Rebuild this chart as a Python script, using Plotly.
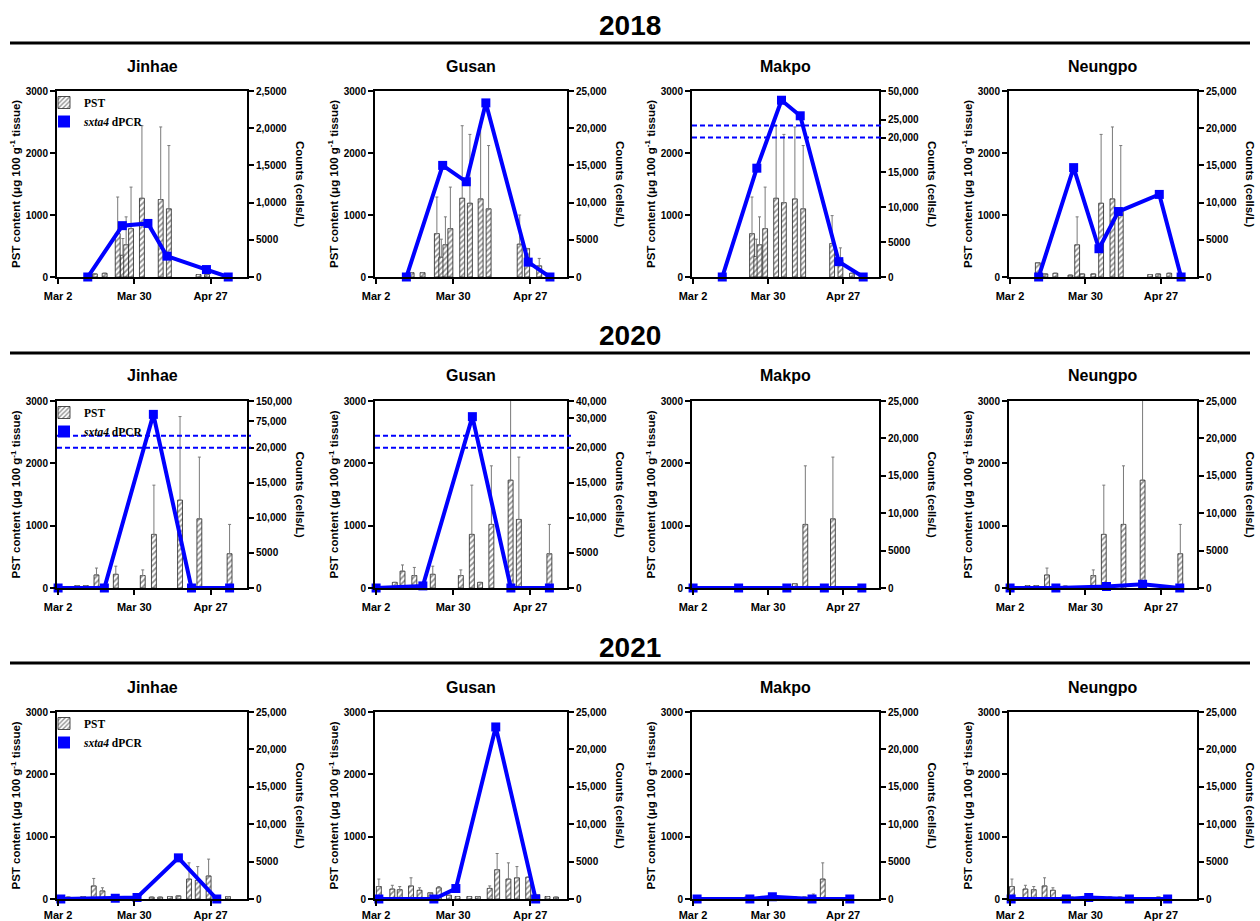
import plotly.graph_objects as go

W, H = 1260, 921

# ------------------------------------------------------------------ data
YEARS = ["2018", "2020", "2021"]
SITES = ["Jinhae", "Gusan", "Makpo", "Neungpo"]

DATE_TICK_DAYS = [0, 28, 56]            # days after Mar 2
DATE_TICK_LABELS = ["Mar 2", "Mar 30", "Apr 27"]
PST_TICKS = [0, 1000, 2000, 3000]

COUNT_TICKS_STD = [0, 5000, 10000, 15000, 20000, 25000]
COUNT_LABELS_STD = ["0", "5000", "10,000", "15,000", "20,000", "25,000"]
COUNT_LABELS_JINHAE_2018 = ["0", "5000", "1,0000", "1,5000", "2,0000", "2,5000"]
COUNT_TICKS_MAKPO_2018 = [0, 5000, 10000, 15000, 20000, 25000, 50000]
COUNT_LABELS_MAKPO_2018 = ["0", "5000", "10,000", "15,000", "20,000", "25,000", "50,000"]
COUNT_TICKS_JINHAE_2020 = [0, 5000, 10000, 15000, 20000, 75000, 150000]
COUNT_LABELS_JINHAE_2020 = ["0", "5000", "10,000", "15,000", "20,000", "75,000", "150,000"]
COUNT_TICKS_GUSAN_2020 = [0, 5000, 10000, 15000, 20000, 30000, 40000]
COUNT_LABELS_GUSAN_2020 = ["0", "5000", "10,000", "15,000", "20,000", "30,000", "40,000"]

# ---- 2018
JINHAE_2018_PST_DAY = [13.5, 17.1, 21.9, 23.8, 25.0, 26.8, 30.8, 37.7, 40.7, 51.6, 54.7]
JINHAE_2018_PST = [50, 60, 700, 350, 520, 780, 1270, 1250, 1100, 40, 40]
JINHAE_2018_PST_SD = [0, 0, 590, 270, 450, 670, 1170, 1170, 1020, 0, 0]
JINHAE_2018_DPCR_DAY = [10.9, 23.6, 33.0, 40.0, 54.5, 62.5]
JINHAE_2018_DPCR = [0, 6900, 7200, 2800, 1000, 0]

GUSAN_2018_PST_DAY = [12.9, 16.9, 22.1, 23.7, 25.2, 27.0, 31.3, 34.1, 38.0, 40.9, 52.2, 54.9, 59.3]
GUSAN_2018_PST = [70, 70, 700, 320, 520, 780, 1270, 1190, 1260, 1100, 530, 460, 180]
GUSAN_2018_PST_SD = [0, 0, 590, 290, 450, 670, 1170, 1110, 1160, 1020, 470, 0, 120]
GUSAN_2018_DPCR_DAY = [11.0, 24.2, 32.8, 39.9, 55.3, 63.2]
GUSAN_2018_DPCR = [0, 15000, 12800, 23400, 2000, 0]

MAKPO_2018_PST_DAY = [22.0, 23.6, 24.8, 26.9, 31.0, 33.9, 38.0, 41.1, 51.9, 55.0, 59.3]
MAKPO_2018_PST = [700, 330, 520, 780, 1270, 1200, 1260, 1100, 540, 280, 60]
MAKPO_2018_PST_SD = [590, 280, 450, 670, 1170, 1100, 1160, 1020, 450, 190, 0]
MAKPO_2018_DPCR_DAY = [10.9, 23.8, 33.0, 40.0, 54.4, 63.5]
MAKPO_2018_DPCR = [0, 15600, 42000, 28500, 2200, 0]

NEUNGPO_2018_PST_DAY = [10.3, 13.1, 16.8, 22.4, 24.9, 26.8, 30.9, 33.8, 38.0, 41.1, 52.0, 55.0, 59.1]
NEUNGPO_2018_PST = [230, 50, 60, 30, 520, 50, 50, 1190, 1260, 1100, 40, 50, 60]
NEUNGPO_2018_PST_SD = [0, 0, 0, 0, 450, 0, 0, 1110, 1160, 1020, 0, 0, 0]
NEUNGPO_2018_DPCR_DAY = [10.6, 23.6, 33.0, 40.2, 55.4, 63.5]
NEUNGPO_2018_DPCR = [0, 14700, 3800, 8800, 11100, 0]

# ---- 2020
JINHAE_2020_PST_DAY = [7.0, 10.2, 14.1, 21.2, 31.1, 35.2, 44.8, 51.9, 63.0]
JINHAE_2020_PST = [40, 40, 210, 220, 200, 860, 1410, 1110, 550]
JINHAE_2020_PST_SD = [0, 0, 110, 130, 90, 790, 1340, 990, 470]
JINHAE_2020_DPCR_DAY = [0, 17, 35, 49, 63]
JINHAE_2020_DPCR = [0, 0, 100000, 0, 0]

GUSAN_2020_PST_DAY = [6.8, 9.6, 13.9, 20.6, 30.8, 34.8, 37.8, 41.9, 48.9, 51.9, 63.0]
GUSAN_2020_PST = [90, 270, 200, 220, 200, 860, 90, 1020, 1730, 1100, 550]
GUSAN_2020_PST_SD = [0, 100, 130, 130, 90, 790, 0, 940, 1370, 1000, 470]
GUSAN_2020_DPCR_DAY = [0, 17, 35, 49, 63]
GUSAN_2020_DPCR = [0, 300, 31000, 0, 0]

MAKPO_2020_PST_DAY = [20.7, 30.6, 34.9, 38.0, 41.9, 52.2, 59.6, 62.7]
MAKPO_2020_PST = [20, 20, 30, 70, 1020, 1110, 20, 20]
MAKPO_2020_PST_SD = [0, 0, 0, 0, 940, 990, 0, 0]
MAKPO_2020_DPCR_DAY = [0, 17, 35, 49, 63]
MAKPO_2020_DPCR = [0, 0, 0, 0, 0]

NEUNGPO_2020_PST_DAY = [2.7, 6.5, 9.7, 13.7, 20.5, 30.9, 34.8, 42.1, 49.2, 63.2]
NEUNGPO_2020_PST = [20, 40, 40, 210, 30, 200, 860, 1020, 1730, 550]
NEUNGPO_2020_PST_SD = [0, 0, 0, 110, 0, 90, 790, 940, 1370, 470]
NEUNGPO_2020_DPCR_DAY = [0, 17, 35.8, 49.2, 63]
NEUNGPO_2020_DPCR = [0, 0, 200, 500, 0]

# ---- 2021
JINHAE_2021_PST_DAY = [3.7, 9.2, 13.1, 16.3, 20.3, 23.3, 27.6, 34.4, 37.5, 41.1, 44.2, 48.1, 51.3, 55.3, 62.4]
JINHAE_2021_PST = [30, 40, 210, 130, 40, 40, 40, 30, 30, 40, 50, 320, 300, 370, 40]
JINHAE_2021_PST_SD = [0, 0, 120, 50, 0, 0, 0, 0, 0, 0, 0, 260, 220, 270, 0]
JINHAE_2021_DPCR_DAY = [1, 21, 29, 44.2, 58.3]
JINHAE_2021_DPCR = [0, 100, 200, 5500, 0]

GUSAN_2021_PST_DAY = [1.0, 5.9, 8.6, 12.7, 15.8, 19.7, 22.8, 26.5, 29.6, 33.9, 37.0, 41.3, 44.0,
                      48.1, 51.2, 55.3, 58.6, 62.3, 65.4]
GUSAN_2021_PST = [200, 160, 150, 210, 140, 100, 180, 60, 40, 40, 40, 170, 470, 320, 340, 350, 70, 40, 30]
GUSAN_2021_PST_SD = [120, 60, 50, 130, 40, 0, 20, 0, 0, 0, 0, 40, 260, 260, 180, 0, 0, 0, 0]
GUSAN_2021_DPCR_DAY = [1, 21, 29, 43.5, 58]
GUSAN_2021_DPCR = [0, 0, 1400, 23000, 0]

MAKPO_2021_PST_DAY = [16.3, 20.0, 23.4, 26.8, 30.5, 34.8, 37.9, 41.6, 44.9, 48.4, 52.0, 55.8]
MAKPO_2021_PST = [20, 30, 20, 20, 40, 30, 30, 30, 50, 320, 20, 20]
MAKPO_2021_PST_SD = [0, 0, 0, 0, 0, 0, 0, 0, 30, 260, 0, 0]
MAKPO_2021_DPCR_DAY = [1.5, 21.2, 29.6, 44.4, 58.5]
MAKPO_2021_DPCR = [0, 0, 300, 0, 0]

NEUNGPO_2021_PST_DAY = [0.7, 5.7, 8.8, 12.8, 15.9, 19.7, 22.8, 27.1, 30.2, 34.0, 37.1, 40.8, 55.1, 58.2]
NEUNGPO_2021_PST = [200, 160, 150, 210, 140, 30, 30, 30, 30, 30, 30, 30, 30, 30]
NEUNGPO_2021_PST_SD = [120, 60, 50, 130, 40, 0, 0, 0, 0, 0, 0, 0, 0, 0]
NEUNGPO_2021_DPCR_DAY = [0.4, 20.9, 29.2, 44.3, 58.5]
NEUNGPO_2021_DPCR = [0, 0, 200, 0, 0]

# ------------------------------------------------------------------ panel table (built from the arrays)
LOW_FRAC, HIGH_FRAC = 0.75, 0.814   # broken-axis gap on the counts axis (fraction of height)

PANELS = [
    # row 2018
    (JINHAE_2018_PST_DAY, JINHAE_2018_PST, JINHAE_2018_PST_SD, JINHAE_2018_DPCR_DAY, JINHAE_2018_DPCR,
     COUNT_TICKS_STD, COUNT_LABELS_JINHAE_2018, None),
    (GUSAN_2018_PST_DAY, GUSAN_2018_PST, GUSAN_2018_PST_SD, GUSAN_2018_DPCR_DAY, GUSAN_2018_DPCR,
     COUNT_TICKS_STD, COUNT_LABELS_STD, None),
    (MAKPO_2018_PST_DAY, MAKPO_2018_PST, MAKPO_2018_PST_SD, MAKPO_2018_DPCR_DAY, MAKPO_2018_DPCR,
     COUNT_TICKS_MAKPO_2018, COUNT_LABELS_MAKPO_2018, (20000, 50000)),
    (NEUNGPO_2018_PST_DAY, NEUNGPO_2018_PST, NEUNGPO_2018_PST_SD, NEUNGPO_2018_DPCR_DAY, NEUNGPO_2018_DPCR,
     COUNT_TICKS_STD, COUNT_LABELS_STD, None),
    # row 2020
    (JINHAE_2020_PST_DAY, JINHAE_2020_PST, JINHAE_2020_PST_SD, JINHAE_2020_DPCR_DAY, JINHAE_2020_DPCR,
     COUNT_TICKS_JINHAE_2020, COUNT_LABELS_JINHAE_2020, (20000, 150000)),
    (GUSAN_2020_PST_DAY, GUSAN_2020_PST, GUSAN_2020_PST_SD, GUSAN_2020_DPCR_DAY, GUSAN_2020_DPCR,
     COUNT_TICKS_GUSAN_2020, COUNT_LABELS_GUSAN_2020, (20000, 40000)),
    (MAKPO_2020_PST_DAY, MAKPO_2020_PST, MAKPO_2020_PST_SD, MAKPO_2020_DPCR_DAY, MAKPO_2020_DPCR,
     COUNT_TICKS_STD, COUNT_LABELS_STD, None),
    (NEUNGPO_2020_PST_DAY, NEUNGPO_2020_PST, NEUNGPO_2020_PST_SD, NEUNGPO_2020_DPCR_DAY, NEUNGPO_2020_DPCR,
     COUNT_TICKS_STD, COUNT_LABELS_STD, None),
    # row 2021
    (JINHAE_2021_PST_DAY, JINHAE_2021_PST, JINHAE_2021_PST_SD, JINHAE_2021_DPCR_DAY, JINHAE_2021_DPCR,
     COUNT_TICKS_STD, COUNT_LABELS_STD, None),
    (GUSAN_2021_PST_DAY, GUSAN_2021_PST, GUSAN_2021_PST_SD, GUSAN_2021_DPCR_DAY, GUSAN_2021_DPCR,
     COUNT_TICKS_STD, COUNT_LABELS_STD, None),
    (MAKPO_2021_PST_DAY, MAKPO_2021_PST, MAKPO_2021_PST_SD, MAKPO_2021_DPCR_DAY, MAKPO_2021_DPCR,
     COUNT_TICKS_STD, COUNT_LABELS_STD, None),
    (NEUNGPO_2021_PST_DAY, NEUNGPO_2021_PST, NEUNGPO_2021_PST_SD, NEUNGPO_2021_DPCR_DAY, NEUNGPO_2021_DPCR,
     COUNT_TICKS_STD, COUNT_LABELS_STD, None),
]

# ------------------------------------------------------------------ layout geometry (pixels)
COL_X = [(57, 247), (375, 567), (692, 879), (1009, 1197)]
ROW_Y = [(91, 277), (401, 588), (712, 899)]
ROW_LABEL_STANDOFF = [3, 3, 0]
YEAR_Y = [25, 336, 647]
RULE_Y = [43, 353, 663]
SUB_Y = [66, 376, 687]
LEGEND_TOP = [88, 398, 709]
X_RANGE = [-0.4, 69.4]

SANS = "Liberation Sans, Arial, sans-serif"
SERIF = "Liberation Serif, Times New Roman, serif"
BLUE = "#0000FF"


def px(x):
    return x / W


def py(y):
    return 1 - y / H


def count_map(v, brk):
    """Map a count onto the (possibly broken) right axis, in fraction of plot height."""
    if brk is None:
        return v / 25000.0
    lo, hi = brk
    if v <= lo:
        return v / lo * LOW_FRAC
    return HIGH_FRAC + (v - lo) / (hi - lo) * (1 - HIGH_FRAC)


fig = go.Figure()
layout = {}
shapes = []
annotations = []

for i, (pd_, pv, psd, dd, dv, cticks, clabels, brk) in enumerate(PANELS):
    r, c = divmod(i, 4)
    n = i + 1
    xr = "x" if n == 1 else f"x{n}"
    yr = "y" if n == 1 else f"y{n}"
    yr2 = f"y{n + 12}"
    x0, x1 = COL_X[c]
    yt, yb = ROW_Y[r]
    legend_name = "legend" if r == 0 else f"legend{r + 1}"

    fig.add_trace(go.Bar(
        x=pd_, y=pv, width=1.8, xaxis=xr, yaxis=yr, name="PST",
        showlegend=(c == 0), legend=legend_name,
        marker=dict(color="white", line=dict(color="#222222", width=0.8),
                    pattern=dict(shape="/", fgcolor="#222222", bgcolor="white", size=4, solidity=0.45)),
        error_y=dict(type="data", symmetric=False, array=psd, arrayminus=[0] * len(psd),
                     color="#7a7a7a", thickness=1, width=1.5),
    ))
    fig.add_trace(go.Scatter(
        x=dd, y=[count_map(v, brk) for v in dv], xaxis=xr, yaxis=yr2,
        mode="lines+markers", cliponaxis=False, showlegend=False,
        line=dict(color=BLUE, width=4),
        marker=dict(symbol="square", size=9, color=BLUE),
    ))
    if c == 0:
        fig.add_trace(go.Scatter(
            x=[None], y=[None], xaxis=xr, yaxis=yr2, mode="markers",
            name="<i>sxta4</i> dPCR", legend=legend_name, showlegend=True,
            marker=dict(symbol="square", size=12, color=BLUE),
        ))
        layout[legend_name] = dict(
            x=px(x0 - 13), y=py(LEGEND_TOP[r]), xanchor="left", yanchor="top",
            bgcolor="rgba(0,0,0,0)", borderwidth=0, tracegroupgap=0,
            font=dict(family=SERIF, size=11.5, color="black", weight="bold"),
        )

    tickfont = dict(family=SANS, size=10, color="black", weight="bold")
    layout["xaxis" if n == 1 else f"xaxis{n}"] = dict(
        domain=[px(x0), px(x1)], anchor=yr, range=X_RANGE, automargin=False,
        tickmode="array", tickvals=DATE_TICK_DAYS, ticktext=DATE_TICK_LABELS,
        ticks="outside", ticklen=5, tickwidth=1.5, tickcolor="black",
        ticklabelstandoff=ROW_LABEL_STANDOFF[r],
        showline=True, linewidth=2, linecolor="black", mirror=True,
        showgrid=False, zeroline=False,
        tickfont=dict(family=SANS, size=11, color="black", weight="bold"),
    )
    layout["yaxis" if n == 1 else f"yaxis{n}"] = dict(
        domain=[py(yb), py(yt)], anchor=xr, range=[0, 3000], automargin=False,
        tickmode="array", tickvals=PST_TICKS,
        ticks="outside", ticklen=5, tickwidth=1.5, tickcolor="black",
        showline=True, linewidth=2, linecolor="black",
        showgrid=False, zeroline=False, tickfont=tickfont,
    )
    layout[f"yaxis{n + 12}"] = dict(
        overlaying=yr, side="right", anchor=xr, range=[0, 1], automargin=False,
        tickmode="array", tickvals=[count_map(t, brk) for t in cticks], ticktext=clabels,
        ticks="outside", ticklen=5, tickwidth=1.5, tickcolor="black",
        showline=True, linewidth=2, linecolor="black",
        showgrid=False, zeroline=False, tickfont=tickfont,
    )

    # broken-axis markers
    if brk is not None:
        for f in (LOW_FRAC, HIGH_FRAC):
            yy = yb - f * (yb - yt)
            shapes.append(dict(type="line", xref="paper", yref="paper",
                               x0=px(x0), x1=px(x1 + 4), y0=py(yy), y1=py(yy),
                               line=dict(color=BLUE, width=2, dash="5px,3px")))

    # panel + axis titles
    annotations.append(dict(text=f"<b>{SITES[c]}</b>", x=px((x0 + x1) / 2), y=py(SUB_Y[r]),
                            xref="paper", yref="paper", showarrow=False,
                            xanchor="center", yanchor="middle",
                            font=dict(family=SANS, size=16, color="black")))
    annotations.append(dict(text="<b>PST content (μg 100 g<sup>-1</sup> tissue)</b>",
                            x=px(x0 - 42), y=py((yt + yb) / 2), xref="paper", yref="paper",
                            textangle=-90, showarrow=False, xanchor="center", yanchor="middle",
                            font=dict(family=SANS, size=11.5, color="black")))
    annotations.append(dict(text="<b>Counts (cells/L)</b>",
                            x=px(x1 + 53), y=py((yt + yb) / 2), xref="paper", yref="paper",
                            textangle=90, showarrow=False, xanchor="center", yanchor="middle",
                            font=dict(family=SANS, size=11.5, color="black")))

for r, yr_label in enumerate(YEARS):
    annotations.append(dict(text=f"<b>{yr_label}</b>", x=0.5, y=py(YEAR_Y[r]),
                            xref="paper", yref="paper", showarrow=False,
                            xanchor="center", yanchor="middle",
                            font=dict(family=SANS, size=28, color="black")))
    shapes.append(dict(type="line", xref="paper", yref="paper",
                       x0=px(10), x1=px(1250), y0=py(RULE_Y[r]), y1=py(RULE_Y[r]),
                       line=dict(color="black", width=3)))

fig.update_layout(
    width=W, height=H, margin=dict(l=0, r=0, t=0, b=0, autoexpand=False),
    paper_bgcolor="white", plot_bgcolor="white",
    barmode="overlay", shapes=shapes, annotations=annotations,
    font=dict(family=SANS, color="black"),
    **layout,
)

fig.write_html("out.html")
